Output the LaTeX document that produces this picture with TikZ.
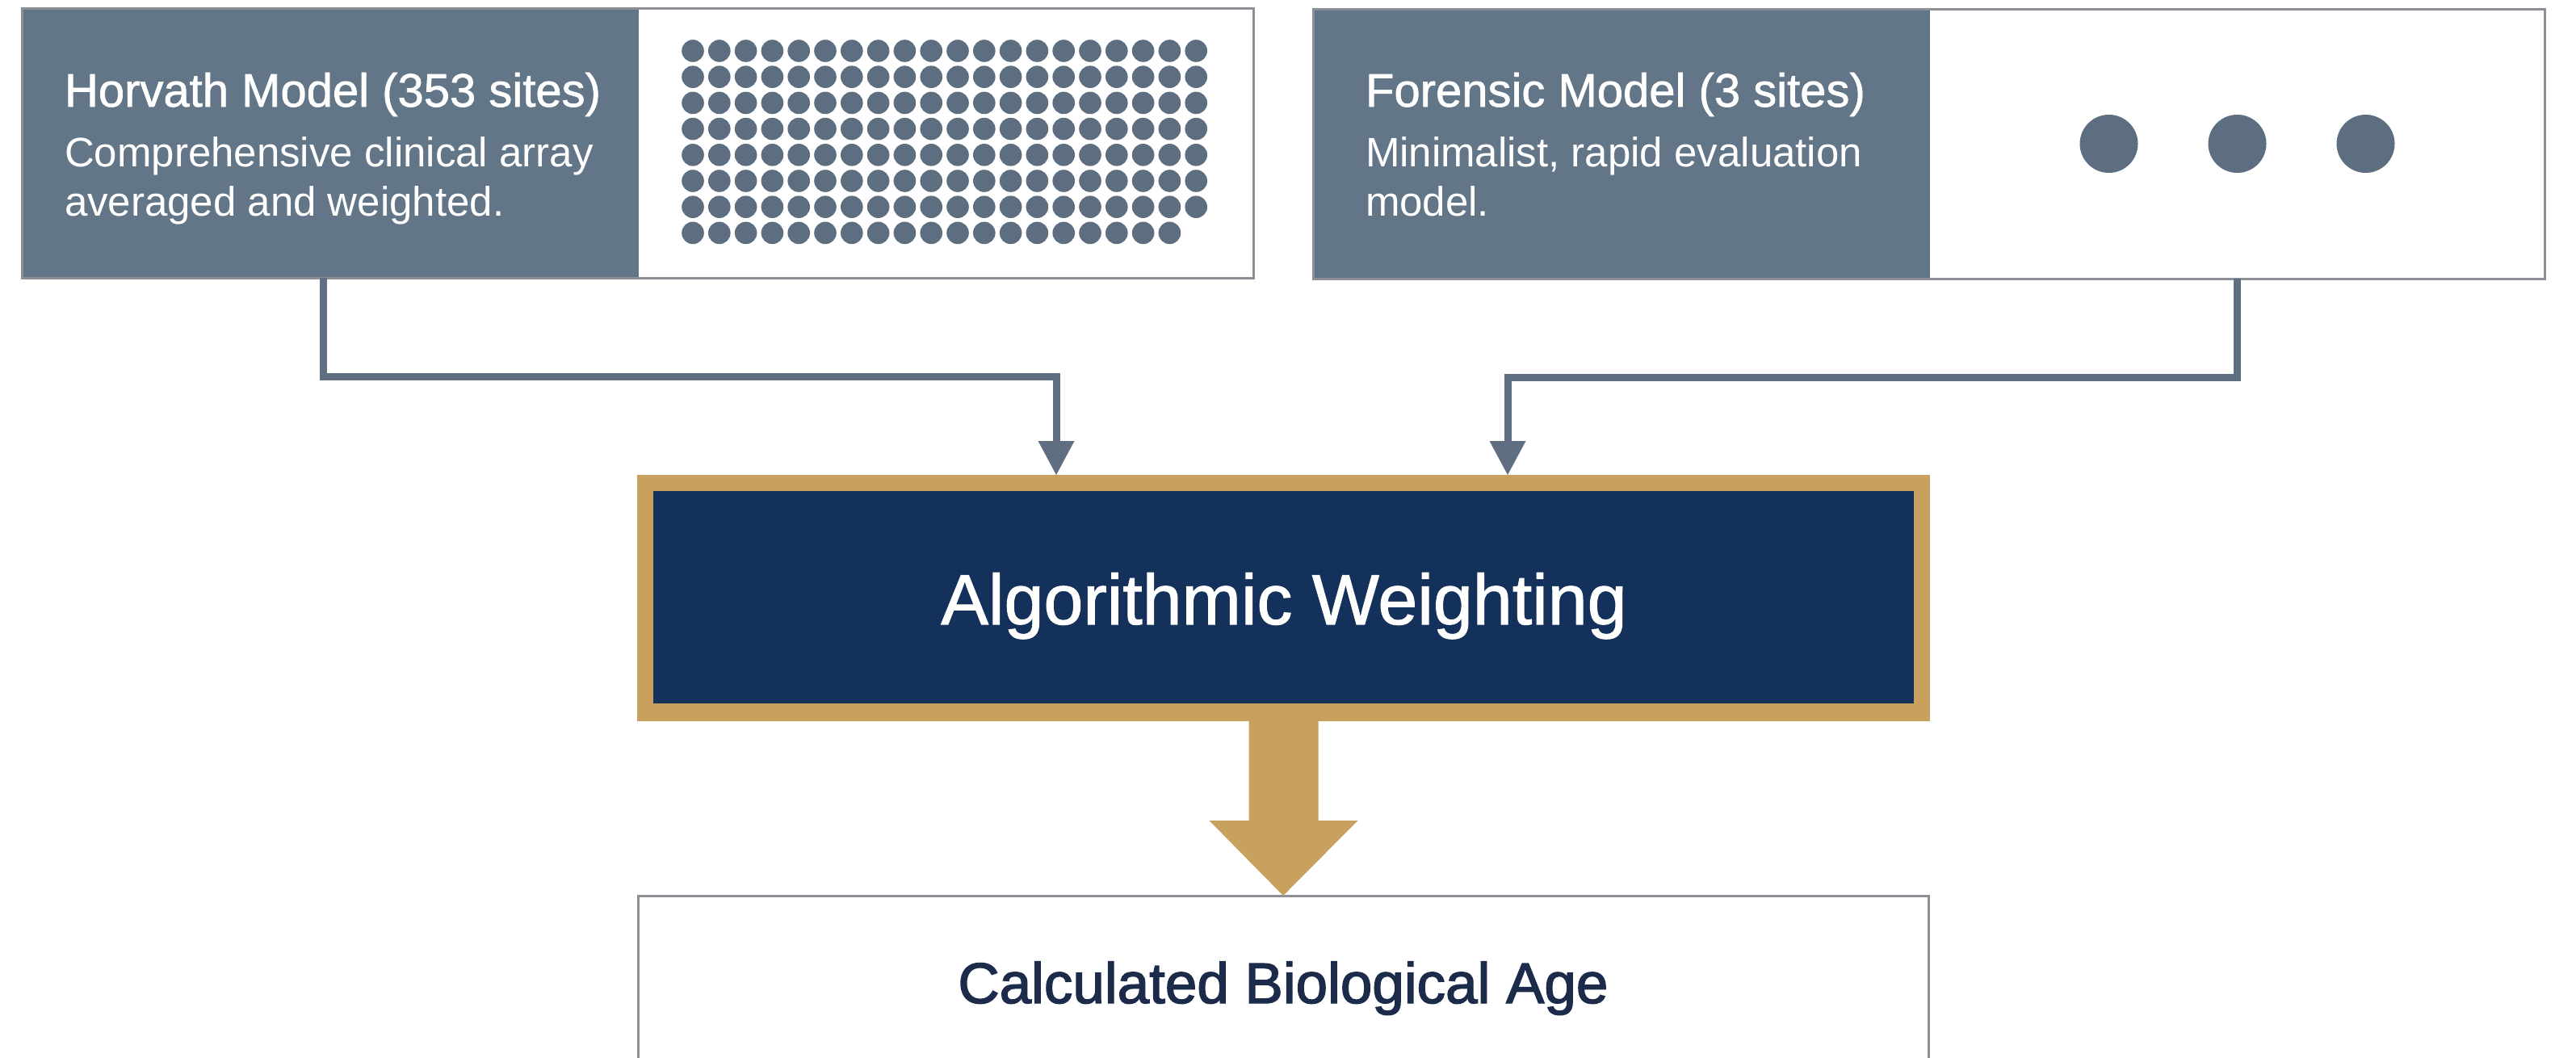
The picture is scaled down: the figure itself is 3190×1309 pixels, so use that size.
\documentclass[tikz,border=0pt]{standalone}
\usepackage{fontspec}
\setmainfont{Liberation Sans}
\newfontface\medfont[FakeBold=1.2]{Liberation Sans}
\newfontface\semifont[FakeBold=2]{Liberation Sans}
\usetikzlibrary{arrows.meta,calc}
\definecolor{slate}{HTML}{627687}
\definecolor{dotc}{HTML}{5D6E80}
\definecolor{connc}{HTML}{5F6F81}
\definecolor{framegrey}{HTML}{8C9096}
\definecolor{goldc}{HTML}{C9A15F}
\definecolor{navy}{HTML}{13315A}
\definecolor{agetext}{HTML}{1C2B4A}
\begin{document}
\begin{tikzpicture}[x=1pt,y=-1pt,
  every node/.style={inner sep=0pt,outer sep=0pt},
  panelframe/.style={draw=framegrey,line width=3pt,anchor=north west,minimum width=1525pt,minimum height=334pt},
  darkpart/.style={fill=slate,anchor=north west,minimum width=764pt,minimum height=334pt},
  whitepart/.style={fill=white,anchor=north west,minimum width=761pt,minimum height=334pt},
  ttl/.style={anchor=base west,text=white,font=\medfont\fontsize{58pt}{66pt}\selectfont},
  subline/.style={anchor=base west,text=white,font=\fontsize{51pt}{61pt}\selectfont},
  conn/.style={draw=connc,line width=9pt,-{Triangle[width=45pt,length=42pt,line width=0pt]}}]
\useasboundingbox (0,0) rectangle (3190,1309);
\clip (0,0) rectangle (3190,1309);
\fill[white] (0,0) rectangle (3190,1309);

% Horvath panel
\node[darkpart] (hdark) at (27,10) {};
\node[whitepart] (hwhite) at (791,10) {};
\node[panelframe] (hpanel) at (27,10) {};
\node[ttl] (htitle) at (80,132) {Horvath Model (353 sites)};
\node[subline] (hsub1) at (80,206) {Comprehensive clinical array};
\node[subline] (hsub2) at (80,267) {averaged and weighted.};
\foreach \r in {0,...,6}{
  \foreach \c in {0,...,19}{
    \fill[dotc] (858+32.8*\c,63+32.2*\r) circle[radius=13.8pt];
  }
}
\foreach \c in {0,...,18}{
  \fill[dotc] (858+32.8*\c,63+32.2*7) circle[radius=13.8pt];
}

% Forensic panel
\node[darkpart] (fdark) at (1626,11) {};
\node[whitepart] (fwhite) at (2390,11) {};
\node[panelframe] (fpanel) at (1626,11) {};
\node[ttl] (ftitle) at (1691,132) {Forensic Model (3 sites)};
\node[subline] (fsub1) at (1691,206) {Minimalist, rapid evaluation};
\node[subline] (fsub2) at (1691,267) {model.};
\foreach \c in {0,1,2}{
  \fill[dotc] (2611.5+159*\c,178) circle[radius=36pt];
}

% Algorithmic weighting
\node[fill=goldc,anchor=north west,minimum width=1601pt,minimum height=305pt] (gold) at (789,588) {};
\node[fill=navy,anchor=north west,minimum width=1561pt,minimum height=263pt] (navybox) at (809,608) {};
\node[anchor=base,text=white,font=\medfont\fontsize{88pt}{100pt}\selectfont] (algtext) at (1590,773) {Algorithmic Weighting};

\coordinate (inL) at ($(gold.north west)+(519,0)$);
\coordinate (inR) at ($(gold.north west)+(1078,0)$);
\draw[conn] ($(hdark.south)+(-9,0)$) -- ++(0,122) -| (inL);
\draw[conn] (fwhite.south) -- ++(0,122) -| (inR);

% Result box
\node[draw=framegrey,line width=3pt,fill=white,anchor=north west,minimum width=1598pt,minimum height=260pt] (agebox) at (790,1109) {};
\node[anchor=base,text=agetext,font=\semifont\fontsize{71pt}{80pt}\selectfont] (agelabel) at (1589,1242) {Calculated Biological Age};

% Gold block arrow
\fill[goldc] ($(gold.south)+(-43,-2)$) -- ($(gold.south)+(-43,123)$) -- ($(gold.south)+(-92,123)$)
  -- (agebox.north) -- ($(gold.south)+(92,123)$) -- ($(gold.south)+(43,123)$) -- ($(gold.south)+(43,-2)$) -- cycle;
\end{tikzpicture}
\end{document}
